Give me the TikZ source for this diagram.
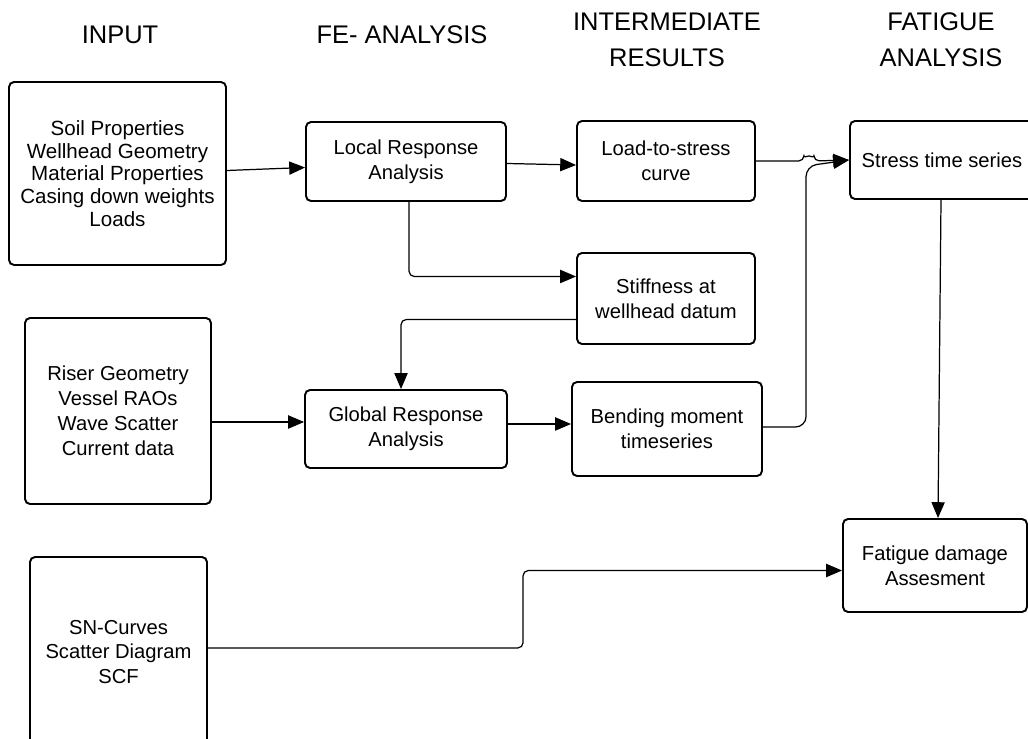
\documentclass[tikz,border=0pt]{standalone}
\usepackage{fontspec}
\setmainfont{Liberation Sans}
\usetikzlibrary{calc,positioning,arrows.meta}

\begin{document}
\begin{tikzpicture}[x=0.02cm, y=-0.02cm]
\tikzstyle{box}=[draw, rounded corners=0.1cm, line width=1.1pt, align=center, inner sep=2pt,
  font=\fontsize{11.5}{14.2}\selectfont]
\tikzstyle{hdr}=[align=center, font=\fontsize{14.5}{20.4}\selectfont]
\tikzstyle{con}=[line width=0.7pt, rounded corners=3pt, -{Triangle[length=9pt,width=7.5pt]}]

\useasboundingbox (0,0) rectangle (1028,739);

% column titles
\node[hdr] (hin) at (120,35) {INPUT};
\node[hdr] (hfe) at (402,35) {FE- ANALYSIS};
\node[hdr] (hres) at (667,40) {INTERMEDIATE\\RESULTS};
\node[hdr] (hfat) at (941,40) {FATIGUE\\ANALYSIS};

% boxes
\node[box, minimum width=4.34cm, minimum height=3.66cm, font=\fontsize{11.7}{13}\selectfont] (in1) at (117.5,173.5)
  {Soil Properties\\Wellhead Geometry\\Material Properties\\Casing down weights\\Loads};
\node[box, minimum width=4cm, minimum height=1.58cm] (local) at (406,161.5) {Local Response\\Analysis};
\node[box, minimum width=3.56cm, minimum height=1.6cm] (load) at (666,161) {Load-to-stress\\curve};
\node[box, minimum width=3.68cm, minimum height=1.56cm] (stress) at (942,160) {Stress time series};
\node[box, minimum width=3.56cm, minimum height=1.82cm] (stiff) at (666,298.5) {Stiffness at\\wellhead datum};
\node[box, minimum width=3.72cm, minimum height=3.72cm] (riser) at (118,411)
  {Riser Geometry\\Vessel RAOs\\Wave Scatter\\Current data};
\node[box, minimum width=4.04cm, minimum height=1.56cm] (glob) at (406,429) {Global Response\\Analysis};
\node[box, minimum width=3.8cm, minimum height=1.88cm] (bend) at (667,429) {Bending moment\\timeseries};
\node[box, minimum width=3.68cm, minimum height=1.86cm] (fat) at (935,565.5) {Fatigue damage\\Assesment};
\node[box, minimum width=3.54cm, minimum height=3.8cm] (sn) at (118.5,652)
  {SN-Curves\\Scatter Diagram\\SCF};

% connectors
\draw[con] ($(in1.east)+(0,-3)$) -- ($(local.west)+(0,6)$);
\draw[con] ($(local.east)+(0,2)$) -- ($(load.west)+(0,4)$);
\draw[con] (load.east) -- ++(48,0) arc[start angle=180, end angle=360, radius=5] -- (stress.west);
\draw[con, rounded corners=6pt] ($(bend.east)+(0,-2)$) -| ($(stress.west)+(-43,6)$) -- (stress.west);
\draw[con] ($(local.south)+(3,0)$) |- ($(stiff.west)+(0,-22)$);
\draw[con] ($(stiff.west)+(0,21)$) -| ($(glob.north)+(-5,0)$);
\draw[con] ($(riser.east)+(0,11)$) -- ($(glob.west)+(0,-7)$);
\draw[con] ($(glob.east)+(0,-5)$) -- ($(bend.west)+(0,-5)$);
\draw[con] ($(stress.south)+(-1,0)$) -- ($(fat.north)+(3,0)$);
\draw[con] ($(sn.east)+(0,-4)$) -| ($(fat.west)+(-319,5)$) -- ($(fat.west)+(0,5)$);
\end{tikzpicture}
\end{document}
